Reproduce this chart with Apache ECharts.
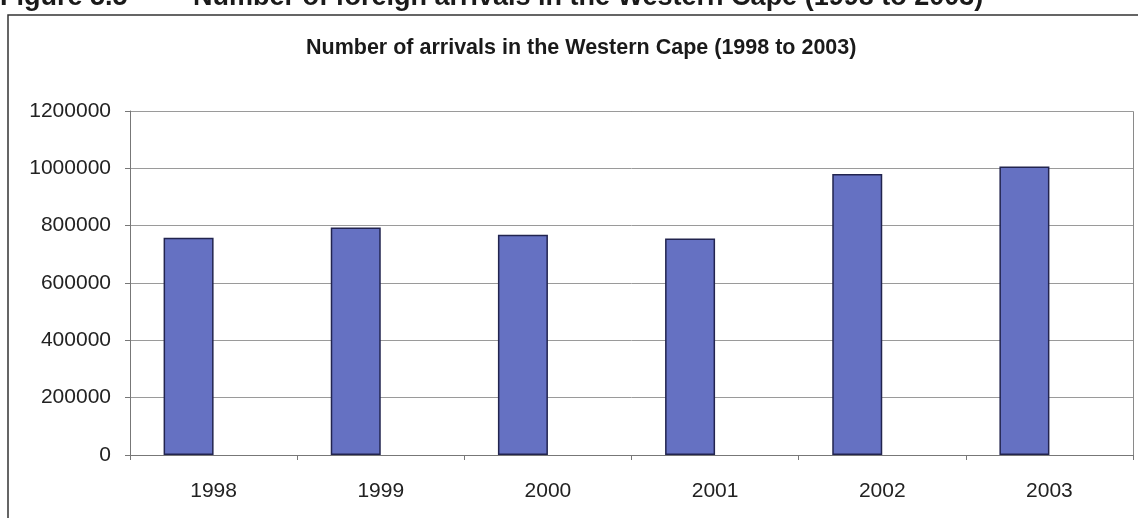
<!DOCTYPE html>
<html>
<head>
<meta charset="utf-8">
<script src="https://cdn.jsdelivr.net/npm/echarts@6/dist/echarts.min.js"></script>
<style>
  html, body { margin: 0; padding: 0; background: #fff; }
  #chart { width: 1138px; height: 518px; }
</style>
</head>
<body>
<div id="chart"></div>
<script>
// Foreign arrivals in the Western Cape, 1998-2003
const years = ['1998', '1999', '2000', '2001', '2002', '2003'];
const arrivals = [758000, 794000, 768000, 755000, 980000, 1006000];
// second column of the source sheet is empty, so its slot stays blank
const emptySeries = [null, null, null, null, null, null];
const yTicks = { min: 0, max: 1200000, interval: 200000 };

const FONT = 'Liberation Sans, Arial, sans-serif';
const chart = echarts.init(document.getElementById('chart'));

chart.setOption({
  backgroundColor: '#ffffff',
  animation: false,
  title: {
    text: 'Number of arrivals in the Western Cape (1998 to 2003)',
    left: 301,
    top: 32,
    textStyle: { fontFamily: FONT, fontWeight: 'bold', fontSize: 21.5, color: '#1a1a1a' }
  },
  graphic: [
    // document caption above the chart frame
    { type: 'text', left: 0, top: -16, style: { text: 'Figure 5.5', font: 'bold 27px "Liberation Sans", Arial', fill: '#1a1a1a' } },
    { type: 'text', left: 193, top: -16, style: { text: 'Number of foreign arrivals in the Western Cape (1998 to 2003)', font: 'bold 27px "Liberation Sans", Arial', fill: '#1a1a1a' } },
    // chart frame
    { type: 'rect', shape: { x: 8, y: 15, width: 1200, height: 600 }, style: { fill: 'none', stroke: '#333', lineWidth: 1.5 }, silent: true, z: -1 },
    // plot area border
    { type: 'rect', shape: { x: 130.5, y: 111.5, width: 1003, height: 344 }, style: { fill: 'none', stroke: '#8a8a8a', lineWidth: 1 }, silent: true, z: -1 }
  ],
  grid: { left: 130, right: 5, top: 111, bottom: 63 },
  xAxis: {
    type: 'category',
    data: years,
    axisLine: { lineStyle: { color: '#777', width: 1 } },
    axisTick: { show: true, length: 5, lineStyle: { color: '#777' } },
    axisLabel: { margin: 26, fontSize: 21, color: '#222', fontFamily: FONT }
  },
  yAxis: {
    type: 'value',
    min: yTicks.min,
    max: yTicks.max,
    interval: yTicks.interval,
    axisLine: { show: true, lineStyle: { color: '#777', width: 1 } },
    axisTick: { show: true, length: 5, lineStyle: { color: '#777' } },
    axisLabel: { margin: 19, fontSize: 21, color: '#222', fontFamily: FONT, formatter: v => String(v) },
    splitLine: { show: true, lineStyle: { color: '#9a9a9a', width: 1 } }
  },
  series: [
    {
      type: 'bar',
      data: arrivals,
      barWidth: 50,
      barGap: 0,
      itemStyle: { color: '#6571c2', borderColor: '#22244f', borderWidth: 1.5 }
    },
    {
      type: 'bar',
      data: emptySeries,
      barWidth: 50,
      barGap: 0
    }
  ]
});
</script>
</body>
</html>
